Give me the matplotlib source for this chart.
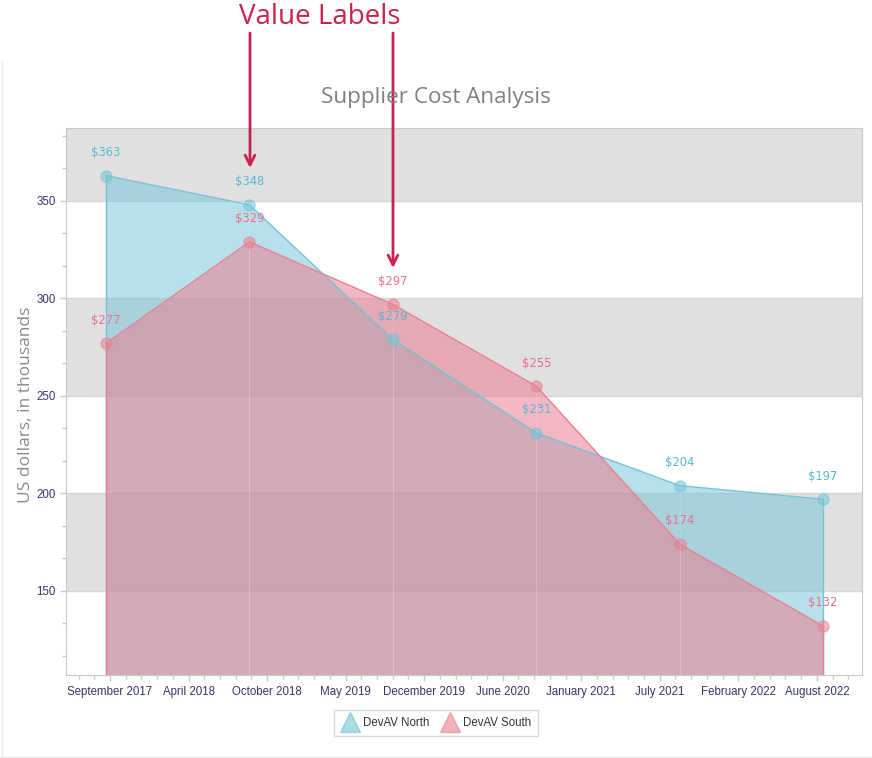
#!/usr/bin/env python3
"""Supplier cost analysis: two overlapping area series with value labels."""

import datetime as dt

import matplotlib.pyplot as plt
import matplotlib.dates as mdates
from matplotlib.lines import Line2D

# data
YEARS = [2017, 2018, 2019, 2020, 2021, 2022]
NORTH = [363, 348, 279, 231, 204, 197]
SOUTH = [277, 329, 297, 255, 174, 132]
SERIES_NAMES = ["DevAV North", "DevAV South"]
TICK_LABELS = [
    "September 2017", "April 2018", "October 2018", "May 2019", "December 2019",
    "June 2020", "January 2021", "July 2021", "February 2022", "August 2022",
]

NORTH_COLOR = "#72c3d8"
SOUTH_COLOR = "#ea7f90"
LABEL_NORTH = "#5ab6d4"
LABEL_SOUTH = "#e8708a"
TICK_COLOR = "#35356e"
ACCENT = "#c8234a"
TICK_FONT = "Liberation Sans"


def main():
    dates = [dt.date(y, 9, 15) for y in YEARS]
    x = mdates.date2num(dates)

    fig = plt.figure(figsize=(8.72, 7.58), dpi=100)
    ax = fig.add_axes([66 / 872, 1 - 675 / 758, 796 / 872, 547 / 758])

    # panel frame (left and bottom edges only)
    fig.add_artist(Line2D([1.5 / 872, 1.5 / 872], [0, 1 - 62 / 758],
                          transform=fig.transFigure, color="#ebebeb", lw=1))
    fig.add_artist(Line2D([0, 1], [1.5 / 758, 1.5 / 758],
                          transform=fig.transFigure, color="#ebebeb", lw=1))

    ymin, ymax = 106.9, 387.4
    x0 = mdates.date2num(dt.date(2017, 6, 5))
    x1 = mdates.date2num(dt.date(2022, 12, 23))
    ax.set_xlim(x0, x1)
    ax.set_ylim(ymin, ymax)

    # interlaced bands
    for lo in (150, 250, 350):
        ax.axhspan(lo, lo + 50, color="#e0e0e0", zorder=0, lw=0)
    for v in (150, 200, 250, 300, 350):
        ax.axhline(v, color="#d6d6d6", lw=1, zorder=0.5)

    # areas
    for vals, col, alpha in ((NORTH, NORTH_COLOR, 0.5), (SOUTH, SOUTH_COLOR, 0.55)):
        ax.fill_between(x, vals, ymin, color=col, alpha=alpha, lw=0, zorder=2)
        ax.plot(x, vals, color=col, lw=1, zorder=3)
        ax.vlines([x[0], x[-1]], ymin, [vals[0], vals[-1]], color=col, lw=1, zorder=3)
        ax.vlines(x[1:-1], ymin, vals[1:-1], color="white", lw=0.8, alpha=0.12, zorder=3)
        ax.plot(x, vals, "o", ms=8, color=col, alpha=0.55, mec=col, mew=1, zorder=4)

    for vals, col in ((NORTH, LABEL_NORTH), (SOUTH, LABEL_SOUTH)):
        for xi, v in zip(x, vals):
            ax.annotate(f"${v}", (xi, v), xytext=(0, 12), textcoords="offset points",
                        ha="center", va="bottom", fontsize=8.3, color=col,
                        family="DejaVu Sans", zorder=5)

    # axes styling
    for s in ax.spines.values():
        s.set_color("#c8c8c8")
    ax.set_yticks([150, 200, 250, 300, 350])
    ax.yaxis.set_minor_locator(plt.FixedLocator([150 + k * 50 / 3 for k in range(-2, 15)]))

    tick0 = mdates.date2num(dt.date(2017, 9, 25))
    ax.set_xticks([tick0 + 200 * k for k in range(len(TICK_LABELS))])
    ax.set_xticklabels(TICK_LABELS)
    ax.xaxis.set_minor_locator(plt.FixedLocator([tick0 + 40 * k for k in range(-3, 48)]))

    ax.tick_params(axis="both", which="both", color="#c8c8c8", labelcolor=TICK_COLOR,
                   labelsize=8.3, direction="out")
    ax.tick_params(axis="both", which="major", length=4, width=1)
    ax.tick_params(axis="both", which="minor", length=3, width=1)
    ax.tick_params(axis="x", pad=4)
    for lbl in ax.get_xticklabels() + ax.get_yticklabels():
        lbl.set_family(TICK_FONT)

    fig.text(26 / 872, 1 - 405 / 758, "US dollars, in thousands", rotation=90,
             ha="center", va="center", fontsize=12.5, color="#8a8a8a", family="Open Sans")
    fig.text(436 / 872, 1 - 98 / 758, "Supplier Cost Analysis", ha="center", va="center",
             fontsize=16.2, color="#808080", family="Open Sans")

    # legend
    handles = [Line2D([], [], ls="none", marker="^", ms=14, color=c, alpha=0.6, mec=c)
               for c in (NORTH_COLOR, SOUTH_COLOR)]
    leg = fig.legend(handles, SERIES_NAMES, loc="center", bbox_to_anchor=(436 / 872, 1 - 723 / 758),
                     ncol=2, frameon=True, fancybox=False, handletextpad=0.3,
                     columnspacing=1.0, borderpad=0.6, handlelength=1.6,
                     prop={"family": TICK_FONT, "size": 8.3})
    leg.get_frame().set_edgecolor("#d0d0d0")
    leg.get_frame().set_linewidth(1)
    for t in leg.get_texts():
        t.set_color("#333333")

    # annotation
    fig.text(320 / 872, 1 - 17 / 758, "Value Labels", ha="center", va="center",
             fontsize=20, color=ACCENT, family="Open Sans")
    for ax_x, y_end in ((250, 168), (393, 268)):
        ax.annotate("", xy=(ax_x / 872, 1 - y_end / 758), xycoords="figure fraction",
                    xytext=(ax_x / 872, 1 - 33 / 758), textcoords="figure fraction",
                    arrowprops=dict(arrowstyle="->,head_length=0.7,head_width=0.35",
                                    color=ACCENT, lw=2, shrinkA=0, shrinkB=0),
                    annotation_clip=False, zorder=10)

    fig.savefig("out.png", dpi=100)


if __name__ == "__main__":
    main()
